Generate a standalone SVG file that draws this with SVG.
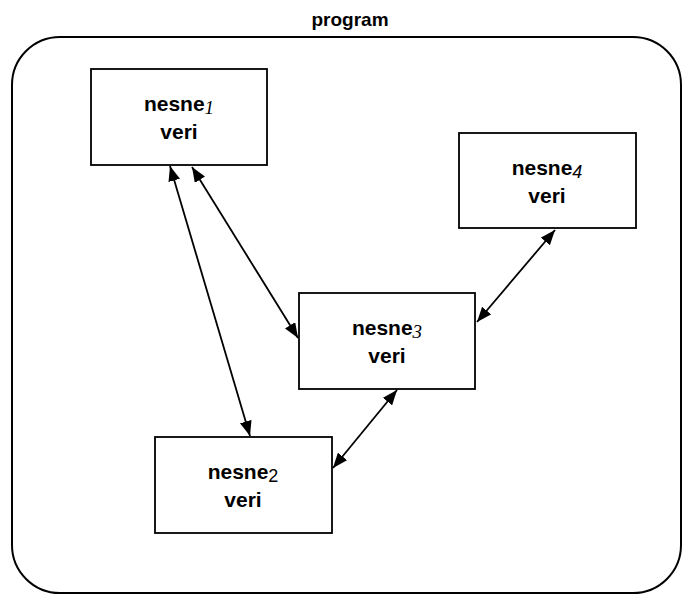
<svg xmlns="http://www.w3.org/2000/svg" width="690" height="599" viewBox="0 0 690 599">
<defs>
<style>
.box{fill:#fff;stroke:#000;stroke-width:1.8}
.t{font-family:"Liberation Sans",Arial,sans-serif;font-weight:bold;font-size:21px;text-anchor:middle;fill:#000}
.sub{font-family:"Liberation Serif","Times New Roman",serif;font-style:italic;font-weight:normal;font-size:19px}
.subs{font-family:"Liberation Sans",Arial,sans-serif;font-weight:normal;font-size:18px}
.c{stroke:#000;stroke-width:1.8;fill:none;marker-start:url(#ah);marker-end:url(#ah)}
</style>
<marker id="ah" viewBox="0 0 15 12" refX="15" refY="6" markerWidth="15" markerHeight="12" markerUnits="userSpaceOnUse" orient="auto-start-reverse">
<path d="M0,0 L15,6 L0,12 z" fill="#000"/>
</marker>
</defs>
<rect x="0" y="0" width="690" height="599" fill="#fff"/>
<text x="350" y="26" class="t" style="font-size:19px">program</text>
<g id="program">
<rect x="12" y="37" width="669" height="556" rx="48" ry="48" fill="none" stroke="#000" stroke-width="2"/>
</g>
<g id="nesne1">
<rect class="box" x="91" y="69" width="176" height="96"/>
<text class="t" x="179" y="111">nesne<tspan class="sub" dy="3">1</tspan></text>
<text class="t" x="179" y="139">veri</text>
</g>
<g id="nesne4">
<rect class="box" x="459" y="133" width="177" height="95"/>
<text class="t" x="547" y="175">nesne<tspan class="subs" font-style="italic" dy="3">4</tspan></text>
<text class="t" x="547" y="203">veri</text>
</g>
<g id="nesne3">
<rect class="box" x="299" y="293" width="176" height="96"/>
<text class="t" x="387" y="335">nesne<tspan class="sub" dy="3">3</tspan></text>
<text class="t" x="387" y="363">veri</text>
</g>
<g id="nesne2">
<rect class="box" x="155" y="437" width="177" height="96"/>
<text class="t" x="243" y="479">nesne<tspan class="subs" dy="3">2</tspan></text>
<text class="t" x="243" y="507">veri</text>
</g>
<g id="connectors">
<line class="c" x1="170" y1="166" x2="250" y2="436"/>
<line class="c" x1="192" y1="167" x2="298" y2="338"/>
<line class="c" x1="397" y1="390" x2="333" y2="468"/>
<line class="c" x1="555" y1="230" x2="477" y2="322"/>
</g>
</svg>
